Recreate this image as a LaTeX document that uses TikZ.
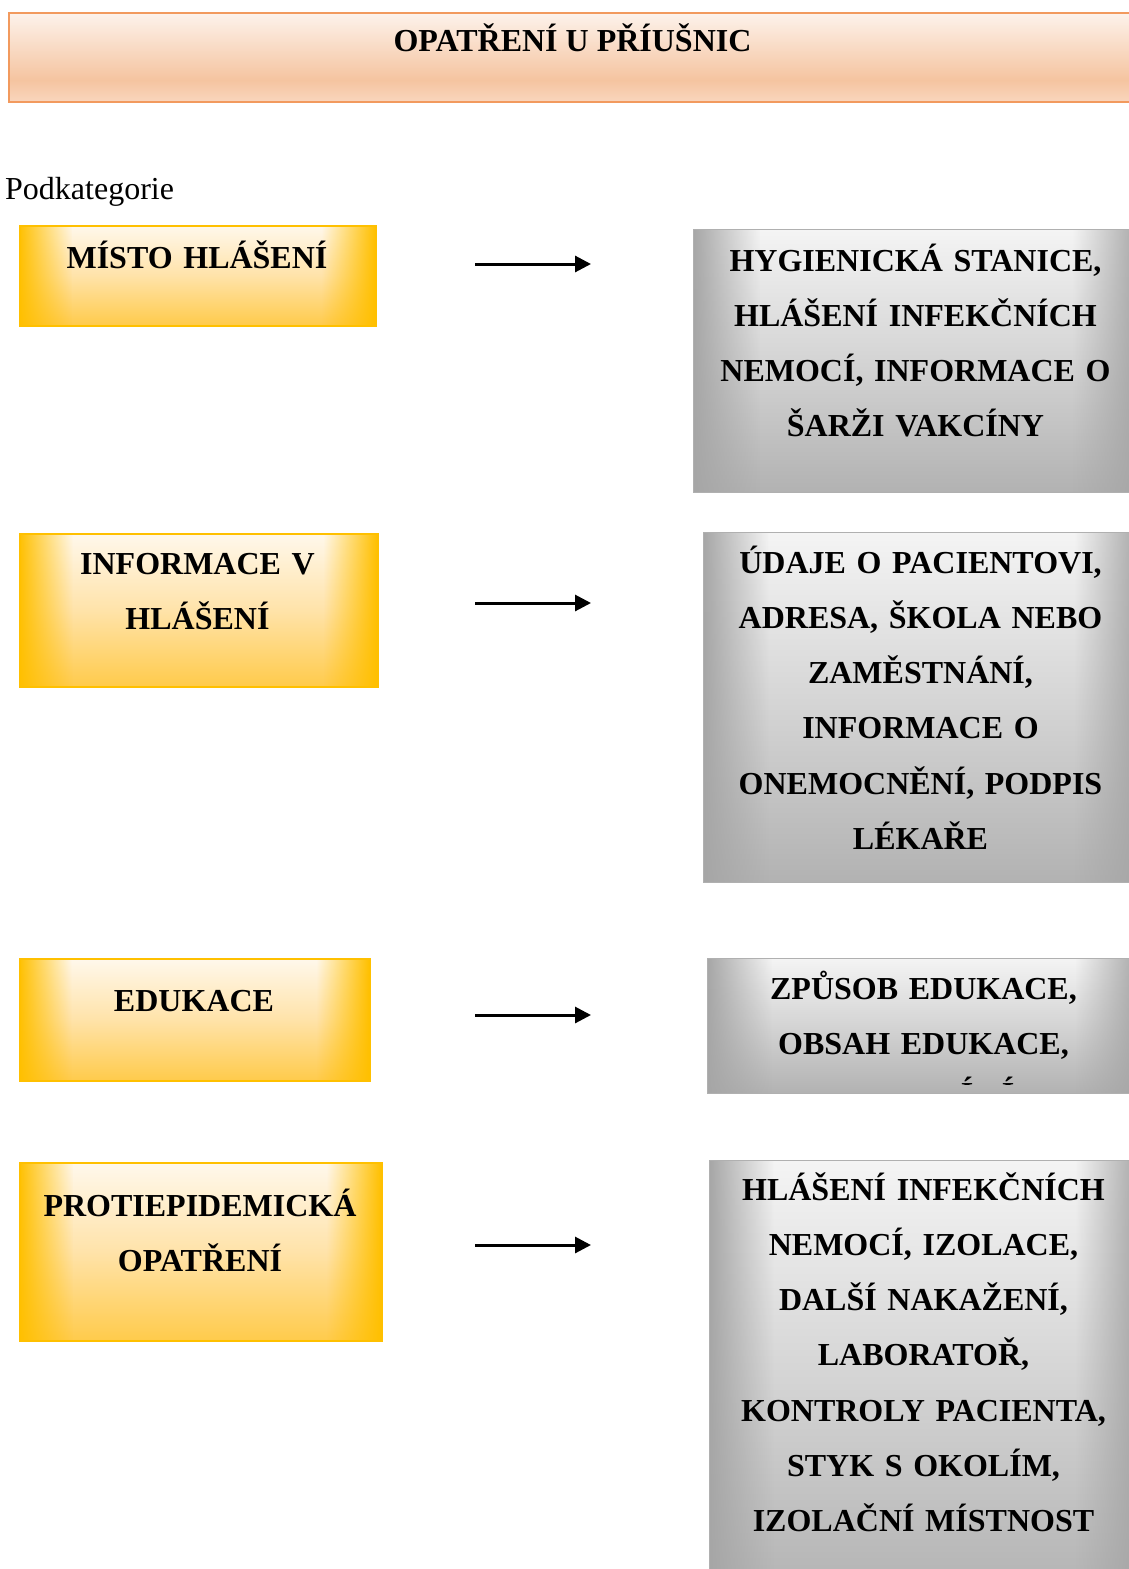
\documentclass[tikz,border=0pt]{standalone}
\usepackage{fontspec}
\setmainfont{Liberation Serif}
\usetikzlibrary{calc,fadings,arrows.meta}

% palettes: title (peach), category boxes (gold), detail boxes (silver)
\definecolor{tBorder}{HTML}{F29A5E}
\definecolor{tTop}{HTML}{FDF3EC}
\definecolor{tMid}{HTML}{F5C4A0}
\definecolor{tBot}{HTML}{F9D5BC}
\definecolor{yEdge}{HTML}{FFC000}
\definecolor{yLight}{HTML}{FFF8EC}
\definecolor{yMid}{HTML}{FFE3AA}
\definecolor{yBot}{HTML}{FFCB4C}
\definecolor{gEdge}{HTML}{A6A6A6}
\definecolor{gLight}{HTML}{F4F4F4}
\definecolor{gMid}{HTML}{D4D4D4}
\definecolor{gBot}{HTML}{B2B2B2}
\definecolor{gBorder}{HTML}{B0B0B0}

\tikzfading[name=fadeR, left color=transparent!0, right color=transparent!100]
\tikzfading[name=fadeL, left color=transparent!100, right color=transparent!0]

% glow fill: #1 palette prefix, (#2,#3) top-left, (#4,#5) bottom-right
\newcommand\glowfill[5]{%
  \fill[top color=#1Light, bottom color=#1Bot, middle color=#1Mid] (#2,#3) rectangle (#4,#5);
  \pgfmathsetmacro\glowband{0.15*(#4-#2)}%
  \fill[#1Edge, path fading=fadeR] (#2,#3) rectangle ({#2+\glowband},#5);
  \fill[#1Edge, path fading=fadeL] ({#4-\glowband},#3) rectangle (#4,#5);
}

\newcommand\boxfont{\bfseries\fontsize{32}{55.3}\selectfont}

\begin{document}
\begin{tikzpicture}[x=1pt,y=-1pt,
  catbox/.style={draw=yEdge, line width=1.5pt, anchor=north west, inner sep=0pt},
  detbox/.style={draw=gBorder, line width=1pt, anchor=north west, inner sep=0pt},
  titlebox/.style={draw=tBorder, line width=1.5pt, anchor=north west, inner sep=0pt},
  boxtext/.style={anchor=base, inner sep=0pt, font=\boxfont, align=center, text width=440pt},
  link/.style={line width=3pt, -{Triangle[length=16pt,width=16pt]}}]
\useasboundingbox (0,0) rectangle (1129,1569);
\clip (0,0) rectangle (1129,1569);

% title bar
\fill[top color=tTop, bottom color=tMid] (8,12) rectangle (1140,80);
\fill[top color=tMid, bottom color=tBot] (8,80) rectangle (1140,101);
\node[titlebox, minimum width=1132pt, minimum height=89pt] (title) at (8,12) {};
\node[anchor=base, inner sep=0pt, font=\boxfont] (titletext) at (572.5,51) {OPATŘENÍ U PŘÍUŠNIC};

\node[anchor=base west, inner sep=0pt, font=\fontsize{32}{36}\selectfont] (sub) at (5,199) {Podkategorie};

% category boxes
\glowfill{y}{19}{225}{375}{325}
\node[catbox, minimum width=356pt, minimum height=100pt] (c1) at (19,225) {};
\glowfill{y}{19}{533}{377}{686}
\node[catbox, minimum width=358pt, minimum height=153pt] (c2) at (19,533) {};
\glowfill{y}{19}{958}{369}{1080}
\node[catbox, minimum width=350pt, minimum height=122pt] (c3) at (19,958) {};
\glowfill{y}{19}{1162}{381}{1340}
\node[catbox, minimum width=362pt, minimum height=178pt] (c4) at (19,1162) {};

\node[boxtext] (c1t) at (197,268) {MÍSTO HLÁŠENÍ};
\node[boxtext] (c2t) at (197.5,574) {INFORMACE V\\HLÁŠENÍ};
\node[boxtext] (c3t) at (194,1011) {EDUKACE};
\node[boxtext] (c4t) at (200,1216) {PROTIEPIDEMICKÁ\\OPATŘENÍ};

% detail boxes
\glowfill{g}{693}{229}{1140}{492}
\node[detbox, minimum width=447pt, minimum height=263pt] (d1) at (693,229) {};
\glowfill{g}{703}{532}{1140}{882}
\node[detbox, minimum width=437pt, minimum height=350pt] (d2) at (703,532) {};
\glowfill{g}{707}{958}{1140}{1093}
\node[detbox, minimum width=433pt, minimum height=135pt] (d3) at (707,958) {};
\glowfill{g}{709}{1160}{1140}{1600}
\node[detbox, minimum width=431pt, minimum height=440pt] (d4) at (709,1160) {};

\node[boxtext] (d1t) at (915.5,271) {HYGIENICKÁ STANICE,\\HLÁŠENÍ INFEKČNÍCH\\NEMOCÍ, INFORMACE O\\ŠARŽI VAKCÍNY};
\node[boxtext] (d2t) at (920.5,573) {ÚDAJE O PACIENTOVI,\\ADRESA, ŠKOLA NEBO\\ZAMĚSTNÁNÍ,\\INFORMACE O\\ONEMOCNĚNÍ, PODPIS\\LÉKAŘE};
\node[boxtext] (d3t) at (923.5,999) {ZPŮSOB EDUKACE,\\OBSAH EDUKACE,};
\node[boxtext] (d4t) at (923.5,1200) {HLÁŠENÍ INFEKČNÍCH\\NEMOCÍ, IZOLACE,\\DALŠÍ NAKAŽENÍ,\\LABORATOŘ,\\KONTROLY PACIENTA,\\STYK S OKOLÍM,\\IZOLAČNÍ MÍSTNOST};

% overflowing third line of the education box: only the accents stay visible
\begin{scope}
  \clip (707,958) rectangle (1129,1084);
  \node[anchor=base, inner sep=0pt, font=\boxfont] (d3a) at (967,1104) {Í};
  \node[anchor=base, inner sep=0pt, font=\boxfont] (d3b) at (1008,1104) {Í};
\end{scope}

% arrows between the columns
\coordinate (a1s) at (475,264); \coordinate (a1e) at (591,264);
\coordinate (a2s) at (475,603); \coordinate (a2e) at (591,603);
\coordinate (a3s) at (475,1015); \coordinate (a3e) at (591,1015);
\coordinate (a4s) at (475,1245); \coordinate (a4e) at (591,1245);
\draw[link] (a1s) -- (a1e);
\draw[link] (a2s) -- (a2e);
\draw[link] (a3s) -- (a3e);
\draw[link] (a4s) -- (a4e);
\end{tikzpicture}
\end{document}
